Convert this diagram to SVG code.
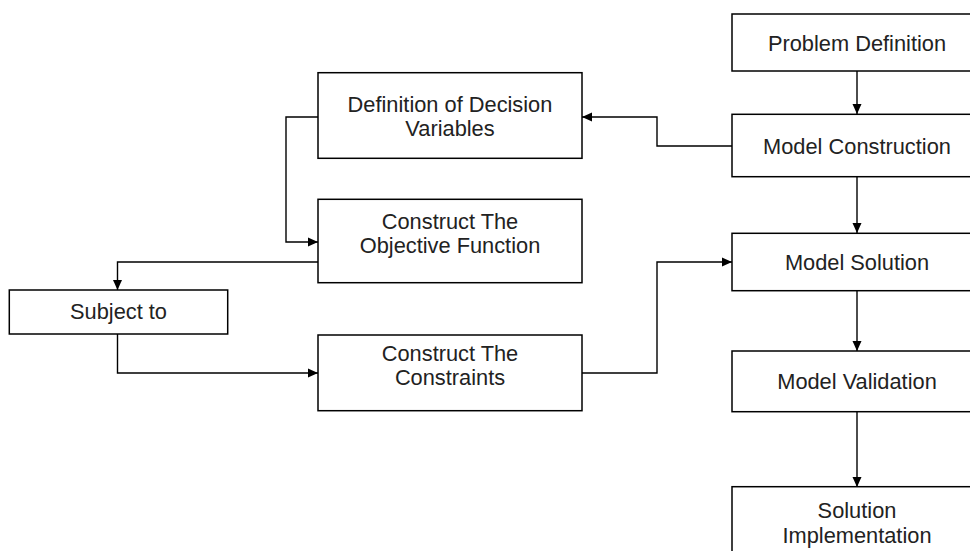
<svg xmlns="http://www.w3.org/2000/svg" width="970" height="551" viewBox="0 0 970 551">
<style>
.box{fill:#fff;stroke:#000;stroke-width:1.5}
.t{font-family:"Liberation Sans",Arial,sans-serif;font-size:21.8px;fill:#222;text-anchor:middle}
.c{fill:none;stroke:#000;stroke-width:1.4}
</style>
<defs>
<marker id="a" markerUnits="userSpaceOnUse" markerWidth="11" markerHeight="10" refX="10" refY="5" orient="auto">
<path d="M0,0.5 L10,5 L0,9.5 z" fill="#000"/>
</marker>
</defs>
<rect width="970" height="551" fill="#fff"/>
<g id="connectors">
<path class="c" d="M857,71 V114" marker-end="url(#a)"/>
<path class="c" d="M857,177 V233" marker-end="url(#a)"/>
<path class="c" d="M857,291 V351" marker-end="url(#a)"/>
<path class="c" d="M857,412 V487" marker-end="url(#a)"/>
<path class="c" d="M732,146 H657 V117 H582" marker-end="url(#a)"/>
<path class="c" d="M318,117 H286 V242 H318" marker-end="url(#a)"/>
<path class="c" d="M318,262 H117.5 V290" marker-end="url(#a)"/>
<path class="c" d="M117.5,334 V373 H318" marker-end="url(#a)"/>
<path class="c" d="M582,373 H657 V262 H732" marker-end="url(#a)"/>
</g>
<g id="problem-definition">
<rect class="box" x="732" y="14" width="250" height="57"/>
<text class="t" x="857" y="50.5">Problem Definition</text>
</g>
<g id="model-construction">
<rect class="box" x="732" y="114.3" width="250" height="62.4"/>
<text class="t" x="857" y="153.5">Model Construction</text>
</g>
<g id="model-solution">
<rect class="box" x="732" y="233.3" width="250" height="57.4"/>
<text class="t" x="857" y="270">Model Solution</text>
</g>
<g id="model-validation">
<rect class="box" x="732" y="351" width="250" height="60.7"/>
<text class="t" x="857" y="389.3">Model Validation</text>
</g>
<g id="solution-implementation">
<rect class="box" x="732" y="486.7" width="250" height="80"/>
<text class="t" x="857" y="518.3">Solution</text>
<text class="t" x="857" y="542.5">Implementation</text>
</g>
<g id="decision-variables">
<rect class="box" x="318" y="72.7" width="264" height="85.6"/>
<text class="t" x="450" y="111.5">Definition of Decision</text>
<text class="t" x="450" y="135.5">Variables</text>
</g>
<g id="objective-function">
<rect class="box" x="318" y="199.3" width="264" height="83.4"/>
<text class="t" x="450" y="229">Construct The</text>
<text class="t" x="450" y="253">Objective Function</text>
</g>
<g id="subject-to">
<rect class="box" x="9.3" y="290" width="218.4" height="44"/>
<text class="t" x="118.5" y="319">Subject to</text>
</g>
<g id="constraints">
<rect class="box" x="318" y="335" width="264" height="75.7"/>
<text class="t" x="450" y="361">Construct The</text>
<text class="t" x="450" y="385">Constraints</text>
</g>
</svg>
